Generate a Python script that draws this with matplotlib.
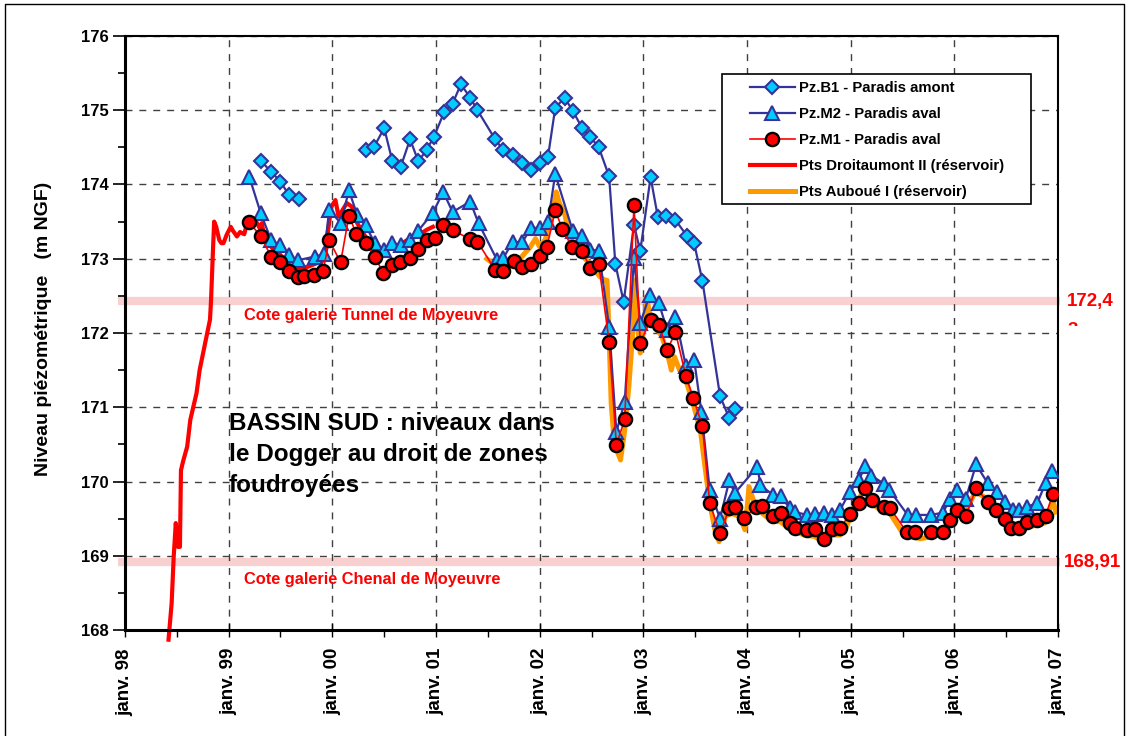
import matplotlib
matplotlib.use("Agg")
from matplotlib import pyplot as plt
from matplotlib.ticker import MultipleLocator
from matplotlib.patches import Rectangle
import numpy as np

plt.rcParams['font.family'] = ['Liberation Sans', 'DejaVu Sans']

NAVY = "#333399"
CYAN = "#00CCFF"
ORANGE = "#FF9900"
PINK = "#F9D0D0"

# Pz.B1 - Paradis amont (NaN = gap in record)
b1_x = [1999.31, 1999.41, 1999.50, 1999.58, 1999.68, np.nan,
        2000.32, 2000.40, 2000.50, 2000.58, 2000.66, 2000.75, 2000.83, 2000.91, 2000.98,
        2001.08, 2001.16, 2001.24, 2001.33, 2001.40, 2001.57, 2001.65, 2001.74, 2001.83,
        2001.92, 2002.00, 2002.08, 2002.15, 2002.24, 2002.32, 2002.41, 2002.49, 2002.57,
        2002.67, 2002.73, 2002.81, 2002.91, 2002.97, 2003.07, 2003.14, 2003.22, 2003.31,
        2003.42, 2003.49, 2003.57, 2003.74, 2003.83, 2003.88]
b1_y = [174.32, 174.17, 174.04, 173.86, 173.80, np.nan,
        174.46, 174.50, 174.76, 174.31, 174.24, 174.61, 174.31, 174.47, 174.64,
        174.98, 175.09, 175.35, 175.17, 175.00, 174.61, 174.46, 174.40, 174.29,
        174.20, 174.29, 174.37, 175.03, 175.17, 174.99, 174.76, 174.64, 174.50,
        174.11, 172.93, 172.42, 173.46, 173.10, 174.10, 173.56, 173.58, 173.52,
        173.31, 173.21, 172.70, 171.15, 170.85, 170.97]

# Pz.M2 - Paradis aval
m2_x = [1999.20, 1999.31, 1999.41, 1999.50, 1999.58, 1999.67, 1999.83, 1999.92, 1999.97,
        2000.08, 2000.16, 2000.24, 2000.32, 2000.41, 2000.50, 2000.58, 2000.66, 2000.75,
        2000.83, 2000.97, 2001.07, 2001.16, 2001.33, 2001.41, 2001.59, 2001.65, 2001.74,
        2001.83, 2001.92, 2002.00, 2002.08, 2002.15, 2002.32, 2002.41, 2002.49, 2002.57,
        2002.67, 2002.74, 2002.82, 2002.91, 2002.97, 2003.06, 2003.15, 2003.23, 2003.31,
        2003.41, 2003.49, 2003.56, 2003.64, 2003.74, 2003.83, 2003.88, 2004.10, 2004.13,
        2004.25, 2004.33, 2004.41, 2004.46, 2004.58, 2004.66, 2004.74, 2004.82, 2004.90,
        2004.99, 2005.08, 2005.14, 2005.20, 2005.32, 2005.37, 2005.55, 2005.63, 2005.77,
        2005.89, 2005.96, 2006.03, 2006.11, 2006.21, 2006.32, 2006.41, 2006.49, 2006.57,
        2006.62, 2006.70, 2006.80, 2006.88, 2006.94]
m2_y = [174.10, 173.61, 173.25, 173.18, 173.05, 172.98, 173.03, 173.06, 173.66,
        173.48, 173.92, 173.59, 173.45, 173.21, 173.12, 173.21, 173.19, 173.25,
        173.38, 173.62, 173.90, 173.63, 173.77, 173.48, 172.98, 173.01, 173.23,
        173.22, 173.42, 173.41, 173.49, 174.14, 173.37, 173.31, 173.12, 173.11,
        172.08, 170.67, 171.07, 173.01, 172.13, 172.51, 172.40, 172.04, 172.22,
        171.55, 171.64, 170.94, 169.89, 169.50, 170.02, 169.84, 170.20, 169.95,
        169.82, 169.80, 169.64, 169.59, 169.55, 169.56, 169.58, 169.55, 169.62,
        169.86, 170.02, 170.21, 170.08, 169.97, 169.89, 169.55, 169.55, 169.55,
        169.58, 169.77, 169.89, 169.77, 170.23, 169.98, 169.86, 169.73, 169.62,
        169.61, 169.66, 169.71, 169.98, 170.14]

# Pz.M1 - Paradis aval
m1_x = [1999.20, 1999.31, 1999.41, 1999.50, 1999.58, 1999.67, 1999.73, 1999.82, 1999.91,
        1999.97, 2000.08, 2000.16, 2000.23, 2000.32, 2000.41, 2000.49, 2000.58, 2000.65,
        2000.75, 2000.83, 2000.91, 2000.99, 2001.07, 2001.16, 2001.33, 2001.40, 2001.57,
        2001.65, 2001.75, 2001.83, 2001.92, 2002.00, 2002.07, 2002.15, 2002.22, 2002.31,
        2002.41, 2002.49, 2002.57, 2002.67, 2002.74, 2002.82, 2002.91, 2002.97, 2003.07,
        2003.15, 2003.23, 2003.31, 2003.41, 2003.48, 2003.57, 2003.64, 2003.74, 2003.83,
        2003.88, 2003.97, 2004.09, 2004.14, 2004.25, 2004.33, 2004.41, 2004.46, 2004.58,
        2004.66, 2004.74, 2004.82, 2004.90, 2004.99, 2005.08, 2005.14, 2005.21, 2005.32,
        2005.38, 2005.54, 2005.62, 2005.77, 2005.89, 2005.96, 2006.03, 2006.11, 2006.21,
        2006.32, 2006.40, 2006.49, 2006.55, 2006.62, 2006.70, 2006.80, 2006.88, 2006.95]
m1_y = [173.49, 173.30, 173.03, 172.96, 172.84, 172.76, 172.77, 172.78, 172.83,
        173.25, 172.95, 173.58, 173.34, 173.21, 173.03, 172.81, 172.92, 172.95,
        173.01, 173.13, 173.25, 173.28, 173.46, 173.39, 173.26, 173.23, 172.85,
        172.84, 172.97, 172.89, 172.93, 173.04, 173.16, 173.65, 173.40, 173.16,
        173.10, 172.87, 172.93, 171.88, 170.49, 170.84, 173.73, 171.87, 172.18,
        172.11, 171.77, 172.01, 171.42, 171.13, 170.75, 169.71, 169.30, 169.64,
        169.66, 169.51, 169.66, 169.67, 169.53, 169.58, 169.44, 169.38, 169.35,
        169.36, 169.23, 169.36, 169.37, 169.56, 169.71, 169.91, 169.75, 169.66,
        169.64, 169.32, 169.32, 169.32, 169.32, 169.48, 169.61, 169.53, 169.91,
        169.73, 169.61, 169.49, 169.38, 169.37, 169.45, 169.48, 169.54, 169.83]

# Pts Droitaumont II (réservoir)
dr_x = [1998.42, 1998.45, 1998.47, 1998.49, 1998.51, 1998.53, 1998.54, 1998.56, 1998.60,
        1998.63, 1998.69, 1998.72, 1998.78, 1998.82, 1998.83, 1998.85, 1998.86, 1998.88,
        1998.91, 1998.93, 1998.95, 1998.98, 1999.02, 1999.04, 1999.08, 1999.11, 1999.15,
        1999.19, 1999.25, 1999.30, 1999.32, 1999.35, 1999.41, 1999.50, 1999.58, 1999.66,
        1999.76, 1999.85, 1999.92, 1999.96, 1999.99, 2000.03, 2000.06, 2000.14, 2000.19,
        2000.24, 2000.30, 2000.36, 2000.43, 2000.52, 2000.62, 2000.72, 2000.81, 2000.91,
        2000.97]
dr_y = [167.87, 168.36, 168.99, 169.44, 169.12, 169.12, 170.15, 170.27, 170.47,
        170.83, 171.19, 171.50, 171.91, 172.18, 172.44, 173.16, 173.50, 173.43,
        173.25, 173.21, 173.21, 173.32, 173.43, 173.38, 173.30, 173.36, 173.33,
        173.54, 173.54, 173.41, 173.48, 173.25, 173.16, 173.05, 172.92, 172.87,
        172.89, 172.94, 172.98, 173.39, 173.70, 173.79, 173.57, 173.75, 173.70,
        173.48, 173.34, 173.21, 173.12, 173.12, 173.16, 173.25, 173.30, 173.39,
        173.43]

# Pts Auboué I (réservoir)
ab_x = [2001.49, 2001.65, 2001.81, 2001.91, 2001.96, 2002.00, 2002.05, 2002.10, 2002.16,
        2002.19, 2002.24, 2002.29, 2002.39, 2002.48, 2002.58, 2002.63, 2002.65, 2002.67,
        2002.69, 2002.72, 2002.78, 2002.82, 2002.86, 2002.90, 2002.92, 2002.94, 2002.97,
        2003.01, 2003.03, 2003.06, 2003.10, 2003.18, 2003.24, 2003.27, 2003.30, 2003.35,
        2003.42, 2003.48, 2003.55, 2003.59, 2003.64, 2003.69, 2003.73, 2003.79, 2003.85,
        2003.93, 2003.98, 2004.02, 2004.07, 2004.15, 2004.24, 2004.32, 2004.42, 2004.55,
        2004.65, 2004.74, 2004.82, 2004.90, 2004.96, 2005.03, 2005.11, 2005.15, 2005.20,
        2005.31, 2005.38, 2005.48, 2005.57, 2005.67, 2005.80, 2005.89, 2005.96, 2006.02,
        2006.10, 2006.15, 2006.20, 2006.28, 2006.36, 2006.44, 2006.54, 2006.60, 2006.70,
        2006.80, 2006.87, 2006.92, 2006.95, 2006.98]
ab_y = [173.00, 172.83, 173.00, 173.16, 173.27, 173.16, 173.25, 173.43, 173.90,
        173.75, 173.61, 173.30, 173.07, 172.94, 172.76, 172.71, 172.71, 171.95,
        171.05, 170.51, 170.29, 170.69, 171.28, 172.04, 172.71, 172.18, 171.73,
        172.09, 172.49, 172.27, 172.13, 171.95, 171.68, 171.50, 171.68, 171.50,
        171.32, 171.05, 170.69, 170.25, 169.71, 169.35, 169.19, 169.53, 169.57,
        169.53, 169.35, 169.93, 169.71, 169.57, 169.46, 169.46, 169.35, 169.28,
        169.26, 169.19, 169.28, 169.28, 169.39, 169.66, 169.84, 169.86, 169.71,
        169.59, 169.57, 169.35, 169.26, 169.23, 169.26, 169.30, 169.44, 169.53,
        169.59, 169.71, 169.86, 169.80, 169.66, 169.55, 169.39, 169.35, 169.39,
        169.41, 169.44, 169.62, 169.75, 169.59]

# gallery levels
tunnel_level = 172.43
chenal_level = 168.91
band_x = [1997.93, 2007.02]

year_ticks = list(range(1998, 2008))
year_labels = ["janv. 98", "janv. 99", "janv. 00", "janv. 01", "janv. 02",
               "janv. 03", "janv. 04", "janv. 05", "janv. 06", "janv. 07"]


def main() -> None:
    fig = plt.figure(figsize=(11.27, 7.36), dpi=100)
    ax = fig.add_axes([0.1109, 0.1440, 0.8279, 0.8071])

    # gallery bands
    for lvl in (tunnel_level, chenal_level):
        ax.plot(band_x, [lvl, lvl], color=PINK, lw=6, solid_capstyle="butt",
                clip_on=False, zorder=1)

    ax.plot(ab_x, ab_y, color=ORANGE, lw=3.6, zorder=2,
            label="Pts Auboué I (réservoir)")
    ax.plot(dr_x, dr_y, color="red", lw=3, zorder=2, clip_on=False,
            label="Pts Droitaumont II (réservoir)")
    ax.plot(b1_x, b1_y, color=NAVY, lw=1.6, marker="D", ms=7,
            mfc=CYAN, mec=NAVY, mew=1.5, zorder=3, label="Pz.B1 - Paradis amont")
    ax.plot(m2_x, m2_y, color=NAVY, lw=1.6, marker="^", ms=9.5,
            mfc=CYAN, mec=NAVY, mew=1.5, zorder=3, label="Pz.M2 - Paradis aval")
    ax.plot(m1_x, m1_y, color="red", lw=1.2, marker="o", ms=9.5,
            mfc="red", mec="black", mew=1.7, zorder=4, label="Pz.M1 - Paradis aval")

    ax.set_xlim(1998, 2007)
    ax.set_ylim(168, 176)
    ax.xaxis.set_minor_locator(MultipleLocator(0.5))
    ax.yaxis.set_major_locator(MultipleLocator(1))
    ax.yaxis.set_minor_locator(MultipleLocator(0.5))
    ax.set_xticks(year_ticks)
    ax.set_xticklabels(year_labels, rotation=90, fontsize=13.5, fontweight="bold")
    for lab in ax.get_yticklabels():
        lab.set_fontsize(12)
        lab.set_fontweight("bold")
    ax.tick_params(axis="x", which="major", direction="inout", length=10, width=1, pad=8)
    ax.tick_params(axis="x", which="minor", direction="out", length=5, width=1)
    ax.tick_params(axis="y", which="major", direction="out", length=9, width=1.2, pad=3)
    ax.tick_params(axis="y", which="minor", direction="out", length=5, width=1.2)
    ax.grid(True, which="major", color="#404040", ls=(0, (5, 5)), lw=1)
    for side in ("left", "bottom"):
        ax.spines[side].set_linewidth(2.2)
    for side in ("top", "right"):
        ax.spines[side].set_linewidth(1.5)

    ax.set_ylabel("Niveau piézométrique   (m NGF)", fontsize=14, fontweight="bold")
    ax.yaxis.set_label_coords(-0.078, 0.507)

    # gallery labels
    ax.text(1999.15, tunnel_level - 0.2, "Cote galerie Tunnel de Moyeuvre",
            color="red", fontsize=11.8, fontweight="bold", va="center")
    ax.text(1999.15, chenal_level - 0.23, "Cote galerie Chenal de Moyeuvre",
            color="red", fontsize=11.8, fontweight="bold", va="center")
    ax.text(2007.09, tunnel_level, "172,4", color="red", fontsize=13.5,
            fontweight="bold", va="center", clip_on=False)
    ax.text(2007.09, tunnel_level - 0.40, "3", color="red", fontsize=13.5,
            fontweight="bold", va="center", clip_on=False)
    # the wrapped "3" is cut off in the source chart
    fig.add_artist(Rectangle((1062 / 1127, 1 - 350 / 736), 50 / 1127, 24 / 736,
                             transform=fig.transFigure, facecolor="white",
                             edgecolor="none", zorder=20))
    ax.text(2007.06, chenal_level, "168,91", color="red", fontsize=13.5,
            fontweight="bold", va="center", clip_on=False)

    ax.text(1999.0, 170.94, "BASSIN SUD : niveaux dans\nle Dogger au droit de zones\nfoudroyées",
            fontsize=17.5, fontweight="bold", va="top", ha="left", linespacing=1.45)

    # legend box drawn separately to match the source placement
    ax.add_patch(Rectangle(((722 - 125) / 933, (630 - 204) / 594), 309 / 933, 130 / 594,
                           transform=ax.transAxes, facecolor="white", edgecolor="black",
                           lw=1.2, zorder=9))
    handles, labels = ax.get_legend_handles_labels()
    order = [2, 3, 4, 1, 0]
    leg = ax.legend([handles[i] for i in order], [labels[i] for i in order],
                    loc="upper left", bbox_to_anchor=((750 - 125) / 933, (630 - 81.5) / 594),
                    borderaxespad=0, frameon=False, handlelength=3.0, labelspacing=0.8,
                    borderpad=0.0, handletextpad=0.3,
                    prop={"weight": "bold", "size": 10.7})
    leg.set_zorder(10)

    # chart area border
    fig.add_artist(plt.Line2D([0.004, 0.004, 0.997, 0.997], [0.0, 0.995, 0.995, 0.0],
                              color="black", lw=1, transform=fig.transFigure))

    fig.savefig("out.png", dpi=100)


if __name__ == "__main__":
    main()
